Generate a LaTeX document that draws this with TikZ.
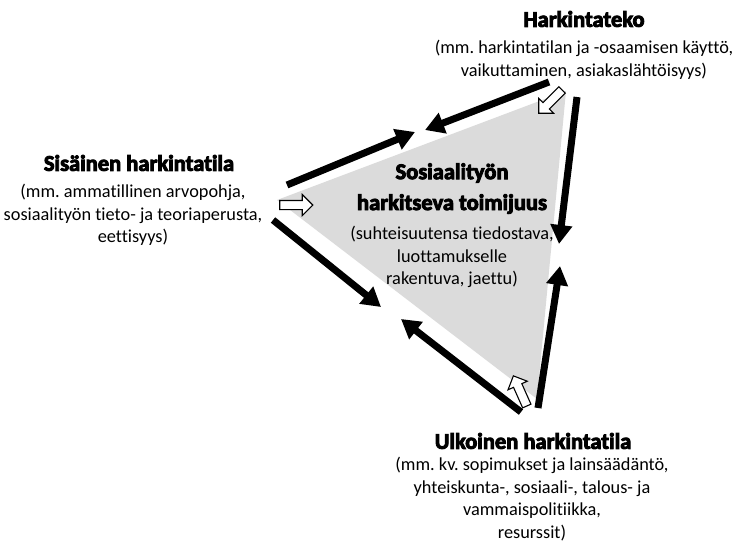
\documentclass[tikz,border=0pt]{standalone}
\usepackage{fontspec}
\setmainfont{Carlito}[Ligatures=NoCommon]
\newfontfamily\heavyfont{Carlito}[Ligatures=NoCommon, BoldFeatures={FakeBold=4}]
\usetikzlibrary{arrows.meta,shapes.arrows}
\begin{document}
\frenchspacing
\begin{tikzpicture}[x=1pt,y=-1pt,
  head/.style={font=\fontsize{22.5}{24}\heavyfont\bfseries, align=center, inner sep=0pt},
  body/.style={font=\fontsize{18.3}{22.6}\selectfont, align=center, inner sep=0pt},
  bigarrow/.style={line width=7pt, -{Triangle[length=19pt,width=21pt]}},
  openarrow/.style={single arrow, draw=black, fill=white, line width=1.1pt,
    minimum height=33pt, minimum width=20pt, single arrow head extend=6pt,
    single arrow tip angle=90, inner xsep=0pt, inner ysep=4pt}]
\useasboundingbox (0,0) rectangle (735,542);
% gray triangle
\fill[gray!28] (277,200) -- (566,91) -- (537,399) -- cycle;
% texts
\node[head] (hkh) at (584,19) {Harkintateko};
\node[body] (hkb) at (584,60) {(mm. harkintatilan ja -osaamisen käyttö,\\vaikuttaminen, asiakaslähtöisyys)};
\node[head] (sih) at (139,163) {Sisäinen harkintatila};
\node[body] (sib) at (133,215) {(mm. ammatillinen arvopohja,\\sosiaalityön tieto- ja teoriaperusta,\\eettisyys)};
\node[head] (ceh1) at (452,173) {Sosiaalityön};
\node[head] (ceh2) at (452,204) {harkitseva toimijuus};
\node[body] (ceb) at (452,257) {(suhteisuutensa tiedostava,\\luottamukselle\\rakentuva, jaettu)};
\node[head] (ukh) at (533,441) {Ulkoinen harkintatila};
\node[body] (ukb) at (532,499) {(mm. kv. sopimukset ja lainsäädäntö,\\yhteiskunta-, sosiaali-, talous- ja\\vammaispolitiikka,\\resurssit)};
% black arrow endpoints
\coordinate (a1s) at (549,82);  \coordinate (a1e) at (425,130);
\coordinate (a2s) at (287,185); \coordinate (a2e) at (415,132);
\coordinate (a3s) at (273,220); \coordinate (a3e) at (381,307);
\coordinate (a4s) at (521,412); \coordinate (a4e) at (401,319);
\coordinate (a5s) at (538,408); \coordinate (a5e) at (560,266);
\coordinate (a6s) at (577,97);  \coordinate (a6e) at (559,244);
\draw[bigarrow] (a1s) -- (a1e);
\draw[bigarrow] (a2s) -- (a2e);
\draw[bigarrow] (a3s) -- (a3e);
\draw[bigarrow] (a4s) -- (a4e);
\draw[bigarrow] (a5s) -- (a5e);
\draw[bigarrow] (a6s) -- (a6e);
% open block arrows
\node[openarrow, rotate=0] (oa1) at (294,205) {};
\node[openarrow, rotate=225] (oa2) at (552,100) {};
\node[openarrow, rotate=114] (oa3) at (521,393) {};
\end{tikzpicture}
\end{document}
